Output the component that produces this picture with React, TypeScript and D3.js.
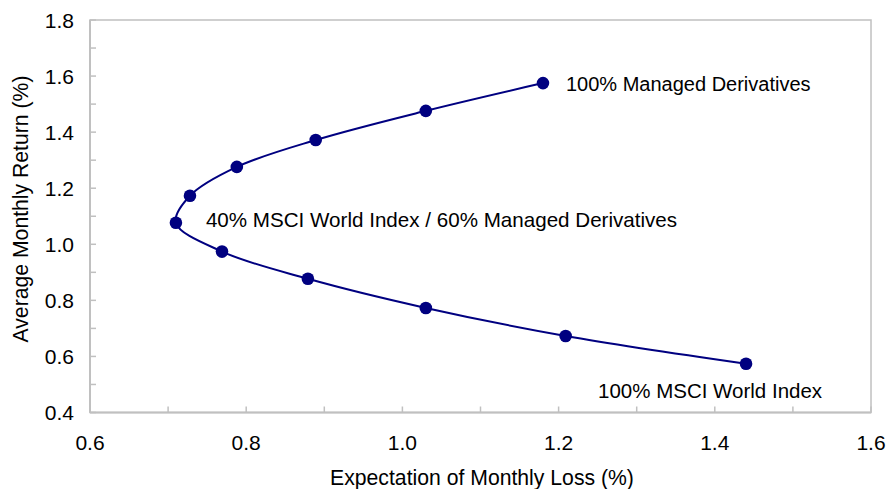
import React, { useEffect } from "react";
import * as d3 from "d3";

const riskX = [1.44, 1.209, 1.03, 0.879, 0.769, 0.71, 0.728, 0.788, 0.889, 1.03, 1.18];
const returnY = [0.574, 0.673, 0.773, 0.877, 0.974, 1.077, 1.173, 1.276, 1.372, 1.476, 1.575];
const xTicks = [0.6, 0.8, 1.0, 1.2, 1.4, 1.6];
const yTicks = [0.4, 0.6, 0.8, 1.0, 1.2, 1.4, 1.6, 1.8];
const minorX = [0.7, 0.9, 1.1, 1.3, 1.5];
const minorY = [0.5, 0.7, 0.9, 1.1, 1.3, 1.5, 1.7];
const annotations = [
  { text: "100% Managed Derivatives", px: 1.18, py: 1.575, dx: 23, dy: 7.5, size: 20 },
  { text: "40% MSCI World Index / 60% Managed Derivatives", px: 0.71, py: 1.077, dx: 30, dy: 4, size: 20.6 },
  { text: "100% MSCI World Index", px: 1.44, py: 0.574, dx: -148, dy: 34, size: 20.5 },
];

const W = 887, H = 489;
const FONT = "Arial, 'Liberation Sans', sans-serif";

export default function App() {
  useEffect(() => {
    document.body.style.margin = "0";
  }, []);
  const x = d3.scaleLinear().domain([0.6, 1.6]).range([90, 871]);
  const y = d3.scaleLinear().domain([0.4, 1.8]).range([412.5, 20]);
  const pts = riskX.map((v, i) => [v, returnY[i]] as [number, number]);
  const line = d3
    .line<[number, number]>()
    .x((d) => x(d[0]))
    .y((d) => y(d[1]))
    .curve(d3.curveCatmullRom.alpha(0.5));
  const grey = "#c0c0c0";
  const navy = "#000080";
  return (
    <svg width={W} height={H} style={{ display: "block", fontFamily: FONT }}>
      <rect x={0} y={0} width={W} height={H} fill="#fff" />
      <rect x={x(0.6)} y={y(1.8)} width={x(1.6) - x(0.6)} height={y(0.4) - y(1.8)} fill="none" stroke={grey} strokeWidth={1.5} />
      <line x1={x(0.6)} x2={x(0.6)} y1={y(1.8)} y2={y(0.4)} stroke={grey} strokeWidth={2} />
      <line x1={x(0.6)} x2={x(1.6)} y1={y(0.4)} y2={y(0.4)} stroke={grey} strokeWidth={2} />
      {[...yTicks, ...minorY].map((t) => (
        <line key={"yt" + t} x1={x(0.6)} x2={x(0.6) + 6} y1={y(t)} y2={y(t)} stroke={grey} strokeWidth={1.5} />
      ))}
      {[...xTicks, ...minorX].map((t) => (
        <line key={"xt" + t} x1={x(t)} x2={x(t)} y1={y(0.4)} y2={y(0.4) - 6} stroke={grey} strokeWidth={1.5} />
      ))}
      {yTicks.map((t) => (
        <text key={"yl" + t} x={74} y={y(t) + 7.5} textAnchor="end" fontSize={21} fill="#000">
          {t.toFixed(1)}
        </text>
      ))}
      {xTicks.map((t) => (
        <text key={"xl" + t} x={x(t)} y={450} textAnchor="middle" fontSize={21} fill="#000">
          {t.toFixed(1)}
        </text>
      ))}
      <text x={482} y={485} textAnchor="middle" fontSize={21.2} fill="#000">
        Expectation of Monthly Loss (%)
      </text>
      <text transform={`translate(28,209) rotate(-90)`} textAnchor="middle" fontSize={21.2} fill="#000">
        Average Monthly Return (%)
      </text>
      <path d={line(pts) || ""} fill="none" stroke={navy} strokeWidth={2} />
      {pts.map((p, i) => (
        <circle key={i} cx={x(p[0])} cy={y(p[1])} r={6.3} fill={navy} />
      ))}
      {annotations.map((a) => (
        <text key={a.text} x={x(a.px) + a.dx} y={y(a.py) + a.dy} fontSize={a.size} fill="#000">
          {a.text}
        </text>
      ))}
    </svg>
  );
}
